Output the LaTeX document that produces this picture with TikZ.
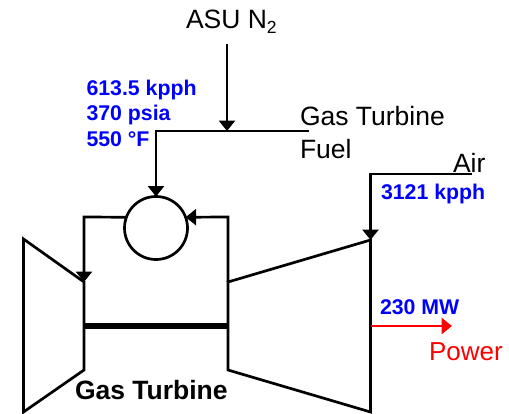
\documentclass[tikz,border=0pt]{standalone}
\usepackage{fontspec}
\setmainfont{Liberation Sans}
\usetikzlibrary{arrows.meta}
\definecolor{valblue}{RGB}{0,0,255}
\definecolor{powred}{RGB}{255,0,0}
\tikzset{
  pipe/.style={line width=2.7pt,draw=black,line join=miter},
  flow/.style={pipe,-{Triangle[length=10.5pt,width=16pt]}},
  lbl/.style={anchor=base west,inner sep=0pt,outer sep=0pt,font=\fontsize{26.5}{28}\selectfont},
  val/.style={lbl,text=valblue,font=\fontsize{21.3}{24}\selectfont\bfseries},
}
\begin{document}
\begin{tikzpicture}[x=1pt,y=-1pt]
\useasboundingbox (0,0) rectangle (509,413);
% coordinates
\coordinate (tl1) at (23.5,239); \coordinate (tl2) at (84,282);
\coordinate (tl3) at (84,370);   \coordinate (tl4) at (23.5,412);
\coordinate (cl1) at (228,282);  \coordinate (cl2) at (370.5,240);
\coordinate (cl3) at (370.5,412);\coordinate (cl4) at (228,370);
\coordinate (shaftL) at (84,326); \coordinate (shaftR) at (228,326);
\coordinate (n2top) at (227,44);  \coordinate (n2join) at (227,131);
\coordinate (fuelend) at (309,131); \coordinate (fuelcorner) at (156,131);
\coordinate (airend) at (472,174); \coordinate (aircorner) at (370.5,174);
\coordinate (powstart) at (370.5,326); \coordinate (powend) at (452,326);
\coordinate (retcorner) at (228,217); \coordinate (hotcorner) at (84,217);
% combustor
\node[circle,draw=black,line width=2.7pt,minimum size=63pt,inner sep=0pt,outer sep=0pt] (comb) at (156,228) {};
% machines
\draw[pipe] (tl1) -- (tl2) -- (tl3) -- (tl4) -- cycle;
\draw[pipe] (cl1) -- (cl2) -- (cl3) -- (cl4) -- cycle;
\draw[line width=6pt] (shaftL) -- (shaftR);
% flows
\draw[flow] (n2top) -- (n2join);
\draw[flow] (fuelend) -- (fuelcorner) -- (comb.north);
\draw[flow] (cl1) -- (retcorner) -- (comb.20);
\draw[flow] (comb.160) -- (hotcorner) -- (tl2);
\draw[flow] (airend) -- (aircorner) -- (cl2);
\draw[line width=2.7pt,draw=powred,-{Triangle[length=10.5pt,width=16pt]}] (powstart) -- (powend);
% labels
\node[lbl] (asu) at (186,28) {ASU N\raisebox{-5pt}{\fontsize{17.5}{17}\selectfont 2}};
\node[val] (v1) at (86.5,95) {613.5 kpph};
\node[val] (v2) at (86.5,120) {370 psia};
\node[val] (v3) at (86.5,146) {550 °F};
\node[lbl] (gt) at (300,125) {Gas Turbine};
\node[lbl] (fu) at (300,158) {Fuel};
\node[lbl] (air) at (453,172) {Air};
\node[val] (v4) at (381,199) {3121 kpph};
\node[val] (v5) at (380,314) {230 MW};
\node[lbl,text=powred,font=\fontsize{26}{28}\selectfont] (pw) at (429,360) {Power};
\node[lbl,font=\fontsize{26.5}{28}\selectfont\bfseries] (gtb) at (75,399) {Gas Turbine};
\end{tikzpicture}
\end{document}
